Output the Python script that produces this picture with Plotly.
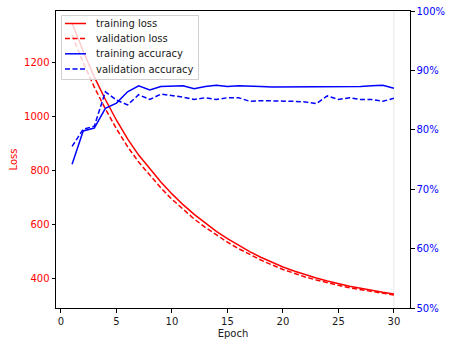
import plotly.graph_objects as go

epochs = list(range(1, 31))
train_loss = [1345, 1241, 1146, 1062, 985, 916, 856, 805, 756, 712,
              672, 636, 603, 573, 546, 521, 498, 477, 458, 441,
              426, 412, 400, 389, 379, 370, 362, 354, 347, 341]
loss_gap = [45, 42, 38, 35, 32, 29, 26, 24, 22, 20,
            18, 17, 15, 14, 13, 12, 11, 10, 9, 9,
            8, 8, 7, 7, 6, 6, 5, 5, 5, 4]
val_loss = [t - g for t, g in zip(train_loss, loss_gap)]
train_acc = [74.2, 79.8, 80.3, 83.6, 84.5, 86.4, 87.4, 86.7, 87.3, 87.4,
             87.4, 86.9, 87.3, 87.5, 87.3, 87.4, 87.4, 87.3, 87.2, 87.2,
             87.2, 87.3, 87.3, 87.3, 87.3, 87.2, 87.3, 87.4, 87.5, 87.0]
val_acc = [77.2, 80.1, 80.6, 86.4, 85.0, 84.2, 85.9, 85.1, 86.0, 85.8,
           85.5, 85.1, 85.4, 85.1, 85.4, 85.4, 84.8, 84.9, 84.9, 84.85,
           84.8, 84.7, 84.4, 85.7, 85.1, 85.4, 85.1, 85.1, 84.8, 85.3]
x_ticks = [0, 5, 10, 15, 20, 25, 30]
loss_ticks = [400, 600, 800, 1000, 1200]
acc_ticks = [50, 60, 70, 80, 90, 100]
acc_ticktext = [f"{v}%" for v in acc_ticks]
legend_names = ["training loss", "validation loss", "training accuracy", "validation accuracy"]

RED = "#ff0000"
BLUE = "#0000ff"
TXT = "#1a1a1a"
font = "DejaVu Sans"

W, H = 449, 342
ML, MR, MT, MB = 56, 39, 11, 34
PW, PH = W - ML - MR, H - MT - MB

def px_x(px):
    return (px - ML) / PW

def px_y(py):
    return (H - MB - py) / PH

styles = [dict(color=RED, width=1.5), dict(color=RED, width=1.5, dash="5px,2.5px"),
          dict(color=BLUE, width=1.5), dict(color=BLUE, width=1.5, dash="5px,2.5px")]

fig = go.Figure()
fig.add_trace(go.Scatter(x=epochs, y=train_loss, mode="lines", name=legend_names[0], line=styles[0]))
fig.add_trace(go.Scatter(x=epochs, y=val_loss, mode="lines", name=legend_names[1], line=styles[1]))
fig.add_trace(go.Scatter(x=epochs, y=train_acc, mode="lines", name=legend_names[2], line=styles[2], yaxis="y2"))
fig.add_trace(go.Scatter(x=epochs, y=val_acc, mode="lines", name=legend_names[3], line=styles[3], yaxis="y2"))

fig.add_shape(type="line", xref="x", yref="paper", x0=30, x1=30, y0=0, y1=1,
              line=dict(color="#e6e6e6", width=1), layer="below")

# legend box (manual, matplotlib-like compact legend)
fig.add_shape(type="rect", xref="paper", yref="paper",
              x0=px_x(61.5), x1=px_x(198.5), y0=px_y(79.5), y1=px_y(15.5),
              fillcolor="rgba(255,255,255,0.8)", line=dict(color="#d0d0d0", width=1), layer="above")
row_y = [23.5, 38.5, 53.8, 69.0]
for i, name in enumerate(legend_names):
    st = dict(styles[i])
    st["dash"] = "5px,2.5px" if "dash" in styles[i] else "solid"
    fig.add_shape(type="line", xref="paper", yref="paper",
                  x0=px_x(65), x1=px_x(86), y0=px_y(row_y[i]), y1=px_y(row_y[i]),
                  line=st, layer="above")
    fig.add_annotation(xref="paper", yref="paper", x=px_x(94), y=px_y(row_y[i]),
                       text=name, showarrow=False, xanchor="left", yanchor="middle",
                       font=dict(family=font, size=10, color=TXT))

fig.update_layout(
    width=W, height=H,
    margin=dict(l=ML, r=MR, t=MT, b=MB),
    paper_bgcolor="white", plot_bgcolor="white",
    font=dict(family=font, size=10, color=TXT),
    showlegend=False,
    xaxis=dict(range=[-0.45, 31.45], tickvals=x_ticks, showgrid=False, zeroline=False,
               showline=True, linecolor="black", linewidth=1, mirror=True, automargin=False,
               ticks="outside", ticklen=3.5, tickcolor="black",
               tickfont=dict(color=TXT, size=10),
               title=dict(text="Epoch", font=dict(size=10, color=TXT), standoff=4)),
    yaxis=dict(range=[289, 1390], tickvals=loss_ticks, showgrid=False, zeroline=False,
               showline=True, linecolor="black", linewidth=1, automargin=False,
               ticks="outside", ticklen=3.5, tickcolor="black",
               tickfont=dict(color=RED, size=10),
               title=dict(text="Loss", font=dict(size=10, color=RED), standoff=4)),
    yaxis2=dict(range=[50, 100], tickvals=acc_ticks, ticktext=acc_ticktext, overlaying="y", side="right",
                showgrid=False, zeroline=False, showline=True, linecolor="black", linewidth=1,
                automargin=False, ticks="outside", ticklen=3.5, tickcolor="black",
                tickfont=dict(color=BLUE, size=10)),
)

fig.write_html("out.html")
